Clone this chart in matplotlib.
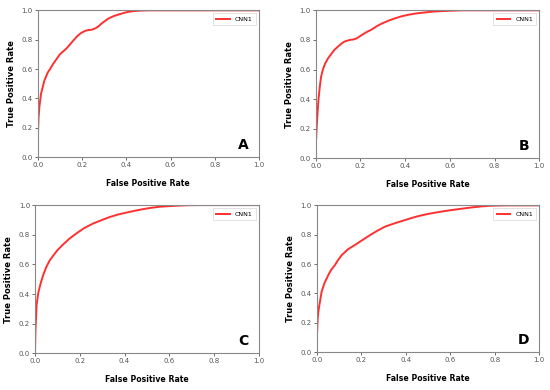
import matplotlib
matplotlib.use("Agg")
import matplotlib.pyplot as plt
import numpy as np

# ROC curve readings (FPR, TPR) for each panel
fpr_A = [0.0, 0.001, 0.004, 0.0075, 0.015, 0.03, 0.045, 0.056, 0.07, 0.086, 0.10, 0.13, 0.15, 0.176, 0.195, 0.214, 0.23, 0.244, 0.26, 0.274, 0.29, 0.32, 0.345, 0.372, 0.40, 0.432, 0.46, 0.5, 0.6, 0.8, 1.0]
tpr_A = [0.0, 0.15, 0.27, 0.34, 0.43, 0.52, 0.575, 0.60, 0.635, 0.67, 0.70, 0.74, 0.775, 0.82, 0.845, 0.86, 0.866, 0.868, 0.877, 0.89, 0.912, 0.945, 0.962, 0.975, 0.987, 0.995, 0.998, 1.0, 1.0, 1.0, 1.0]

fpr_B = [0.0, 0.0015, 0.0045, 0.008, 0.012, 0.018, 0.024, 0.032, 0.042, 0.055, 0.072, 0.085, 0.10, 0.115, 0.13, 0.153, 0.168, 0.183, 0.198, 0.213, 0.23, 0.25, 0.27, 0.295, 0.325, 0.355, 0.385, 0.414, 0.45, 0.49, 0.53, 0.563, 0.65, 0.8, 1.0]
tpr_B = [0.0, 0.12, 0.21, 0.30, 0.39, 0.48, 0.55, 0.60, 0.64, 0.675, 0.71, 0.735, 0.755, 0.775, 0.79, 0.80, 0.803, 0.81, 0.825, 0.84, 0.855, 0.87, 0.89, 0.91, 0.93, 0.946, 0.96, 0.97, 0.979, 0.986, 0.992, 0.995, 1.0, 1.0, 1.0]

fpr_C = [0.0, 0.002, 0.0075, 0.015, 0.025, 0.037, 0.05, 0.065, 0.082, 0.10, 0.126, 0.155, 0.186, 0.22, 0.26, 0.30, 0.335, 0.37, 0.41, 0.45, 0.484, 0.52, 0.558, 0.60, 0.632, 0.68, 0.72, 0.85, 1.0]
tpr_C = [0.0, 0.15, 0.33, 0.41, 0.47, 0.53, 0.58, 0.625, 0.66, 0.695, 0.735, 0.775, 0.81, 0.845, 0.876, 0.90, 0.92, 0.936, 0.95, 0.963, 0.973, 0.982, 0.989, 0.993, 0.996, 0.999, 1.0, 1.0, 1.0]

fpr_D = [0.0, 0.0015, 0.0045, 0.008, 0.012, 0.022, 0.035, 0.052, 0.065, 0.082, 0.095, 0.112, 0.14, 0.172, 0.20, 0.232, 0.27, 0.307, 0.345, 0.382, 0.42, 0.457, 0.495, 0.531, 0.57, 0.606, 0.65, 0.696, 0.74, 0.786, 0.86, 1.0]
tpr_D = [0.0, 0.12, 0.23, 0.28, 0.32, 0.41, 0.47, 0.525, 0.56, 0.593, 0.625, 0.66, 0.70, 0.73, 0.758, 0.79, 0.825, 0.855, 0.875, 0.893, 0.911, 0.927, 0.94, 0.95, 0.96, 0.968, 0.977, 0.986, 0.993, 0.998, 1.0, 1.0]

labels = ["A", "B", "C", "D"]
series = [(fpr_A, tpr_A), (fpr_B, tpr_B), (fpr_C, tpr_C), (fpr_D, tpr_D)]
ticks = [0.0, 0.2, 0.4, 0.6, 0.8, 1.0]
tick_labels = ["0.0", "0.2", "0.4", "0.6", "0.8", "1.0"]
legend_label = "CNN1"
xlab = "False Positive Rate"
ylab = "True Positive Rate"

positions = [
    [0.0685, 0.5974, 0.4025, 0.376],
    [0.574, 0.594, 0.4065, 0.3795],
    [0.0636, 0.0941, 0.407, 0.380],
    [0.5758, 0.0974, 0.4047, 0.376],
]

fig = plt.figure(figsize=(5.5, 3.9), dpi=100)
for (fx, ty), lab, pos in zip(series, labels, positions):
    ax = fig.add_axes(pos)
    ax.plot(fx, ty, color="#ff3030", lw=1.4, label=legend_label)
    ax.set_xlim(0, 1)
    ax.set_ylim(0, 1)
    ax.set_xticks(ticks)
    ax.set_xticklabels(tick_labels)
    ax.set_yticks(ticks)
    ax.set_yticklabels(tick_labels)
    ax.tick_params(labelsize=5, colors="#555555", length=2, width=0.6, pad=1.5)
    for s in ax.spines.values():
        s.set_color("#888888")
        s.set_linewidth(0.8)
    ax.set_xlabel(xlab, fontsize=5.6, fontweight="bold", labelpad=8)
    ax.set_ylabel(ylab, fontsize=6, fontweight="bold", labelpad=4)
    ax.text(0.93, 0.08, lab, transform=ax.transAxes, fontsize=10, fontweight="bold",
            ha="center", va="center")
    leg = ax.legend(loc="upper right", fontsize=4.5, frameon=True, fancybox=False,
                    handlelength=2.2, borderpad=0.5, handletextpad=0.8)
    leg.get_frame().set_linewidth(0.5)
    leg.get_frame().set_edgecolor("#cccccc")

fig.savefig("out.png", dpi=100)
